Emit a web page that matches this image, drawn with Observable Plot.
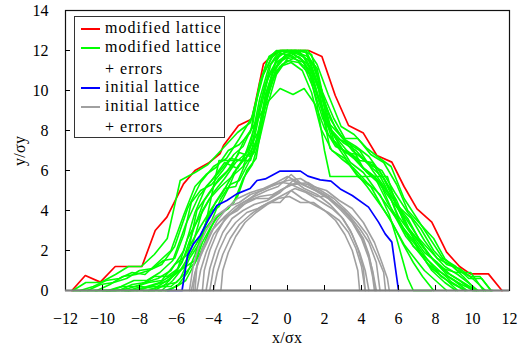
<!DOCTYPE html>
<html><head><meta charset="utf-8">
<script src="https://cdn.jsdelivr.net/npm/d3@7"></script>
<script src="https://cdn.jsdelivr.net/npm/@observablehq/plot@0.6"></script>
<style>
body{margin:0;background:#fff;font-family:"Liberation Serif",serif}
#c{position:relative;width:521px;height:348px;overflow:hidden}
.t{position:absolute;font-family:"Liberation Serif",serif;font-size:16px;line-height:16px;white-space:nowrap;color:#000;letter-spacing:1px}
.sw{position:absolute;width:19px;height:2px}
#lg{position:absolute;left:74px;top:16px;width:151px;height:122px;border:1px solid #333;box-sizing:border-box;background:#fff}
svg text{font-family:"Liberation Serif",serif}
</style></head><body><div id="c"></div>
<script>
const xTicks = [-12,-10,-8,-6,-4,-2,0,2,4,6,8,10,12];
const yTicks = [0,2,4,6,8,10,12,14];
const seriesNames = ["modified lattice","modified lattice + errors","initial lattice","initial lattice + errors"];

const redLine = [[-11.65,0],[-10.93,0.75],[-10.12,0.42],[-9.31,1.2],[-8.6,1.2],[-7.87,1.2],[-7.15,3.0],[-6.52,3.67],[-5.62,5.33],[-5.0,6.0],[-4.27,6.37],[-3.64,6.85],[-3.46,7.25],[-2.65,8.25],[-1.92,8.58],[-1.3,11.33],[-0.84,11.75],[-0.4,12],[0.4,12],[1.14,12],[1.86,11.7],[2.58,9.75],[3.3,8.25],[4.1,7.87],[4.83,6.75],[5.64,6.42],[6.3,5.2],[7.0,4.08],[7.8,3.42],[8.6,1.92],[9.3,1.2],[9.88,0.83],[10.86,0.83],[11.59,0]];

const blueLine = [[-6.5,0],[-5.7,0],[-5.4,1.75],[-5.08,2.33],[-4.72,2.75],[-4.3,3.5],[-3.82,4.25],[-3.28,4.5],[-2.74,4.83],[-2.02,5.1],[-1.65,5.5],[-1.2,5.58],[-0.4,5.97],[0.7,5.97],[1.1,5.72],[1.77,5.53],[2.35,5.47],[2.85,5.08],[3.5,4.75],[4.38,4.17],[4.92,3.42],[5.28,2.83],[5.64,2.42],[6.0,0]];

const green1 = [[-11.6,0],[-10.9,0.4],[-10.1,0.4],[-9.3,0.8],[-8.6,1.2],[-7.9,1.2],[-7.2,1.8],[-6.5,2.6],[-5.8,5.5],[-5.0,5.9],[-4.3,6.3],[-3.5,7.1],[-2.7,7.9],[-2.0,8.4],[-1.4,10.6],[-0.9,11.6],[-0.4,12],[0.4,12],[1.1,12],[1.6,11.3],[2.2,9.8],[2.9,8.2],[3.6,7.8],[4.3,7.1],[5.0,6.6],[5.6,6.2],[6.3,4.6],[7.0,3.6],[7.7,2.6],[8.4,1.6],[9.1,1.2],[9.8,0.6],[10.5,0.6],[11.0,0]];
const green2 = [[-11.6,0],[-10.3,0],[-9.6,0.3],[-8.9,0.7],[-8.2,0.8],[-7.5,1.0],[-6.8,1.3],[-6.1,2.2],[-5.4,4.1],[-4.7,5.4],[-4.0,6.2],[-3.3,6.6],[-2.6,7.6],[-1.9,8.7],[-1.3,10.8],[-0.7,11.9],[0,12],[0.7,11.6],[1.2,11.0],[1.7,9.5],[2.3,8.3],[3.0,7.6],[3.7,7.2],[4.4,6.7],[5.1,5.8],[5.8,4.4],[6.5,3.6],[7.2,2.4],[7.9,1.5],[8.6,0.9],[9.3,0.5],[10.0,0],[11.1,0]];
const green3 = [[-10.4,0],[-9.7,0],[-9.0,0.2],[-8.3,0.5],[-7.6,0.5],[-6.9,0.9],[-6.2,1.5],[-5.5,3.3],[-4.8,4.7],[-4.1,5.5],[-3.4,6.4],[-2.7,6.1],[-2.0,7.3],[-1.5,9.6],[-1.0,11.2],[-0.5,11.9],[0.3,11.7],[0.9,11.2],[1.4,10.1],[1.9,8.6],[2.5,7.8],[3.2,7.0],[3.9,6.5],[4.6,6.4],[5.3,5.2],[6.0,3.7],[6.7,2.8],[7.4,1.9],[8.1,1.4],[8.8,0.8],[9.5,0.4],[10.2,0]];
const green4 = [[-9.8,0],[-9.1,0],[-8.4,0.3],[-7.7,0.4],[-7.0,0.6],[-6.3,1.0],[-5.6,2.0],[-5.0,3.9],[-4.4,5.2],[-3.8,5.8],[-3.1,6.6],[-2.4,6.5],[-1.8,8.1],[-1.2,10.3],[-0.6,11.4],[0,11.8],[0.6,12],[1.1,11.4],[1.6,10.4],[2.1,8.3],[2.7,7.6],[3.4,7.3],[4.1,6.1],[4.8,5.6],[5.5,4.8],[6.2,3.1],[6.9,2.3],[7.6,1.3],[8.3,0.9],[9.0,0.5],[9.7,0]];
const green5 = [[-11.6,0],[-9.2,0],[-8.5,0],[-7.8,0.1],[-7.1,0.3],[-6.4,0.5],[-5.7,1.4],[-5.1,3.0],[-4.5,4.5],[-3.9,5.3],[-3.3,5.9],[-2.6,6.9],[-2.0,6.7],[-1.5,8.9],[-1.0,10.8],[-0.4,11.8],[0.2,12],[0.8,11.8],[1.3,10.9],[1.8,9.2],[2.2,7.8],[2.9,7.1],[3.6,6.6],[4.3,5.9],[5.0,5.4],[5.7,3.9],[6.4,2.7],[7.1,1.9],[7.8,1.1],[8.5,0.6],[9.2,0]];
const green6 = [[-9.6,0],[-8.9,0.2],[-8.2,0.2],[-7.5,0.4],[-6.8,0.5],[-6.1,1.3],[-5.4,1.8],[-4.9,4.0],[-4.3,4.8],[-3.7,5.6],[-3.0,6.2],[-2.3,7.6],[-1.7,8.4],[-1.1,9.4],[-0.4,10.1],[0.3,9.8],[0.9,10.1],[1.5,9.3],[2.0,8.1],[2.6,7.2],[3.3,6.9],[4.0,6.2],[4.7,5.7],[5.4,4.4],[6.1,3.4],[6.8,2.2],[7.5,1.6],[8.2,1.0],[8.9,0.4],[9.6,0]];
const green7 = [[-8.8,0],[-8.1,0],[-7.4,0.2],[-6.7,0.2],[-6.0,0.9],[-5.4,2.6],[-4.8,3.6],[-4.2,4.6],[-3.6,5.2],[-3.0,5.7],[-2.4,6.2],[-1.9,7.4],[-1.4,9.6],[-0.9,11.3],[-0.3,12],[0.5,12],[1.0,11.6],[1.5,11.2],[1.9,9.8],[2.3,8.6],[2.9,7.7],[3.5,7.0],[4.2,6.5],[4.9,6.1],[5.6,5.0],[6.3,3.4],[7.0,2.6],[7.7,1.7],[8.4,1.1],[9.1,0.9],[9.9,0.9],[10.6,0]];
const green8 = [[-8.2,0],[-7.5,0],[-6.8,0],[-6.2,0.5],[-5.6,1.2],[-5.1,2.4],[-4.6,4.0],[-4.0,4.9],[-3.4,5.6],[-2.8,6.4],[-2.2,6.9],[-1.6,7.9],[-1.1,10.0],[-0.6,11.6],[0,12],[0.6,11.8],[1.2,11.5],[1.7,10.2],[2.1,8.8],[2.5,7.5],[3.1,6.9],[3.8,6.8],[4.5,6.2],[5.2,5.6],[5.9,4.5],[6.6,3.0],[7.3,2.2],[8.0,1.4],[8.7,0.7],[9.4,0.3],[10.1,0]];
const green9 = [[-11.2,0],[-10.5,0.2],[-9.8,0.5],[-9.1,0.6],[-8.4,0.9],[-7.7,0.8],[-7.0,1.4],[-6.3,2.0],[-5.6,3.8],[-5.0,5.2],[-4.4,5.8],[-3.8,6.2],[-3.2,7.0],[-2.6,7.3],[-2.0,7.9],[-1.6,9.9],[-1.1,11.5],[-0.6,12],[0.2,11.9],[0.8,11.5],[1.3,10.6],[1.8,9.2],[2.4,8.0],[3.0,7.4],[3.7,7.0],[4.4,6.3],[5.1,6.0],[5.8,4.9],[6.5,3.9],[7.2,3.1],[7.9,2.0],[8.6,1.3],[9.3,1.1],[10.0,0.6],[10.7,0]];
const green10 = [[-10.0,0],[-9.3,0],[-8.6,0.1],[-7.9,0.3],[-7.2,0.7],[-6.5,0.7],[-5.9,1.1],[-5.3,2.2],[-4.7,3.2],[-4.1,4.1],[-3.5,4.9],[-2.9,5.9],[-2.3,6.6],[-1.8,7.0],[-1.3,9.1],[-0.8,10.9],[-0.2,11.6],[0.4,12],[1.0,11.9],[1.5,10.6],[2.0,9.4],[2.6,8.1],[3.2,7.4],[3.9,7.0],[4.6,6.0],[5.3,5.1],[6.0,4.2],[6.7,3.6],[7.4,2.5],[8.1,1.6],[8.8,1.3],[9.5,0.7],[10.2,0]];
const green11 = [[-8.6,0],[-7.9,0.2],[-7.2,0.1],[-6.5,0.5],[-5.8,1.0],[-5.2,1.9],[-4.7,2.7],[-4.2,3.9],[-3.7,4.2],[-3.2,5.1],[-2.7,6.2],[-2.1,6.8],[-1.6,7.6],[-1.2,9.8],[-0.7,11.1],[-0.1,11.8],[0.5,11.9],[1.1,11.7],[1.6,11.1],[2.0,9.4],[2.4,7.9],[3.0,7.0],[3.6,6.7],[4.3,5.9],[5.0,5.3],[5.7,4.4],[6.4,3.6],[7.1,2.6],[7.8,1.9],[8.5,1.2],[9.2,0.8],[9.9,0.3],[10.3,0]];
const green12 = [[-7.5,0],[-6.9,0.2],[-6.3,0.2],[-5.8,0.6],[-5.3,1.6],[-4.8,2.3],[-4.4,3.4],[-3.9,4.4],[-3.4,5.1],[-2.8,5.2],[-2.3,6.3],[-1.8,6.9],[-1.4,8.4],[-1.0,10.1],[-0.5,11.4],[0.1,11.7],[0.7,12],[1.3,11.8],[1.8,10.0],[2.2,8.3],[2.8,7.3],[3.4,6.4],[4.1,5.9],[4.8,5.0],[5.5,4.1],[6.2,3.2],[6.9,2.4],[7.6,1.5],[8.3,0.7],[9.0,0.3],[9.6,0]];
const green13 = [[-7.0,0],[-6.4,0],[-5.9,0.3],[-5.4,0.9],[-5.0,1.8],[-4.6,2.9],[-4.1,3.5],[-3.6,4.6],[-3.1,5.3],[-2.6,5.5],[-2.1,6.4],[-1.6,7.4],[-1.2,9.3],[-0.8,10.6],[-0.3,11.3],[0.3,11.6],[0.9,11.4],[1.4,10.5],[1.9,9.0],[2.4,7.6],[3.0,6.8],[3.6,6.0],[4.3,5.2],[5.0,4.3],[5.6,3.5],[6.2,2.4],[6.8,1.4],[7.3,0.7],[7.9,0]];
const green14 = [[-10.8,0],[-10.1,0.3],[-9.4,0.4],[-8.7,0.6],[-8.0,1.0],[-7.3,1.1],[-6.7,1.5],[-6.1,1.6],[-5.6,2.8],[-5.2,4.4],[-4.7,5.0],[-4.1,5.3],[-3.5,6.0],[-2.9,6.8],[-2.4,7.2],[-1.9,8.2],[-1.5,10.4],[-1.0,11.7],[-0.5,12],[0.3,12],[1.0,12],[1.4,11.2],[1.9,9.9],[2.5,8.6],[3.1,7.6],[3.8,7.6],[4.5,6.8],[5.2,6.4],[5.9,5.3],[6.5,4.0],[7.2,3.3],[7.9,2.6],[8.5,1.6],[9.2,1.0],[9.9,0.7],[10.4,0.7],[11.0,0]];
const green15 = [[-9.0,0],[-8.3,0],[-7.6,0.2],[-6.9,0.4],[-6.2,0.8],[-5.5,1.2],[-5.0,1.5],[-4.5,3.0],[-4.0,5.2],[-3.7,6.5],[-2.0,6.5],[-1.6,7.8],[-1.1,9.6],[-0.6,11.0],[0,11.5],[0.6,11.4],[1.2,10.8],[1.6,9.3],[2.0,7.0],[2.3,5.7],[5.4,5.7],[5.9,4.2],[6.5,3.2],[7.1,2.0],[7.8,1.0],[8.5,0.4],[9.1,0]];
const green16 = [[-6.6,0],[-6.0,0.2],[-5.5,0.5],[-5.1,1.2],[-4.7,1.9],[-4.3,2.8],[-3.9,3.6],[-3.4,4.0],[-2.9,4.4],[-2.4,5.6],[-1.9,6.3],[-1.5,7.6],[-1.1,9.2],[-0.6,10.8],[0,11.6],[0.6,11.7],[1.2,11.2],[1.7,10.0],[2.0,8.4],[2.3,7.1],[2.9,6.6],[3.6,6.1],[4.3,5.4],[5.0,4.8],[5.5,3.8],[5.9,2.6],[6.2,1.6],[6.5,0.6],[6.8,0],[7.8,0]];
const green17 = [[-7.8,0],[-7.2,0],[-6.6,0.3],[-6.0,0.4],[-5.5,0.9],[-5.0,1.4],[-4.6,2.4],[-4.2,3.1],[-3.7,3.8],[-3.2,4.1],[-2.7,4.7],[-2.2,6.0],[-1.7,6.6],[-1.3,8.8],[-0.9,10.4],[-0.4,11.2],[0.2,11.4],[0.8,11.0],[1.3,9.9],[1.8,8.1],[2.4,7.0],[3.1,6.6],[3.8,5.7],[4.5,5.2],[5.1,4.2],[5.7,3.3],[6.3,2.3],[6.8,1.7],[7.4,1.0],[8.0,0.5],[8.6,0]];

const gray1 = [[-5.3,0],[-5.1,1.2],[-4.8,2.2],[-4.4,3.0],[-3.9,3.7],[-3.3,4.1],[-2.7,4.6],[-2.0,4.9],[-1.3,5.1],[-0.6,5.4],[0,5.7],[0.6,5.4],[1.3,5.1],[2.0,4.8],[2.7,4.3],[3.3,3.8],[3.9,3.1],[4.4,2.4],[4.8,1.4],[5.0,0]];
const gray2 = [[-4.9,0],[-4.7,1.0],[-4.4,1.9],[-4.0,2.8],[-3.5,3.4],[-3.0,3.9],[-2.4,4.4],[-1.8,4.7],[-1.1,5.0],[-0.5,5.2],[0.2,5.8],[0.8,5.3],[1.5,5.0],[2.2,4.6],[2.9,4.0],[3.5,3.4],[4.0,2.6],[4.4,1.6],[4.6,0.7],[4.7,0]];
const gray3 = [[-4.4,0],[-4.2,1.1],[-3.9,2.0],[-3.5,2.9],[-3.0,3.6],[-2.4,4.0],[-1.8,4.3],[-1.1,4.5],[-0.4,4.9],[0.3,5.5],[0.9,5.1],[1.6,4.8],[2.3,4.3],[2.9,3.7],[3.4,3.0],[3.8,2.1],[4.1,1.1],[4.2,0]];
const gray4 = [[-3.6,0],[-3.5,1.0],[-3.2,1.9],[-2.8,2.7],[-2.3,3.4],[-1.7,3.9],[-1.1,4.3],[-0.5,4.6],[0.1,4.7],[0.7,4.4],[1.4,4.4],[2.0,4.0],[2.6,3.5],[3.1,2.8],[3.5,2.0],[3.8,1.0],[3.9,0]];
const gray5 = [[-5.2,0],[-5.0,0.9],[-4.7,1.7],[-4.3,2.6],[-3.8,3.5],[-3.2,4.2],[-2.6,4.4],[-2.0,4.8],[-1.4,5.0],[-0.7,5.3],[0,5.5],[0.7,5.6],[1.4,5.2],[2.1,5.0],[2.8,4.5],[3.5,4.1],[4.1,3.4],[4.7,2.4],[5.1,1.4],[5.4,0.6],[5.5,0]];
const gray6 = [[-4.6,0],[-4.5,1.0],[-4.2,2.0],[-3.8,2.9],[-3.3,3.7],[-2.7,4.0],[-2.1,4.5],[-1.5,4.7],[-0.8,4.8],[-0.2,5.1],[0.5,5.4],[1.1,5.3],[1.8,4.9],[2.5,4.4],[3.1,4.0],[3.6,3.3],[4.1,2.6],[4.4,1.8],[4.6,0.9],[4.75,0]];
const gray7 = [[-5.0,0],[-4.9,1.2],[-4.6,2.1],[-4.1,3.0],[-3.6,3.5],[-3.0,3.9],[-2.4,4.3],[-1.7,4.6],[-1.0,4.6],[-0.4,5.0],[0.2,5.3],[0.9,5.0],[1.6,4.7],[2.2,4.7],[2.8,4.2],[3.4,3.6],[3.9,2.9],[4.3,2.0],[4.6,1.0],[4.8,0]];
const gray8 = [[-4.2,0],[-4.0,1.1],[-3.7,2.0],[-3.3,2.8],[-2.8,3.4],[-2.2,3.9],[-1.6,4.1],[-1.0,4.4],[-0.4,4.4],[0.2,5.0],[0.8,4.6],[1.2,4.4],[1.6,4.2],[2.2,3.9],[2.8,3.5],[3.3,2.9],[3.7,2.1],[4.0,1.2],[4.2,0]];
const gray9 = [[-5.1,0],[-5.0,0.8],[-4.8,1.6],[-4.4,2.3],[-4.0,3.1],[-3.4,3.7],[-2.8,4.2],[-2.2,4.5],[-1.6,4.9],[-0.9,5.2],[-0.3,5.4],[0.4,5.3],[1.1,5.4],[1.8,5.0],[2.5,4.6],[3.2,4.0],[3.8,3.4],[4.3,2.8],[4.8,1.8],[5.2,0.9],[5.3,0]];
const gray10 = [[-4.0,0],[-3.8,0.9],[-3.5,1.8],[-3.1,2.6],[-2.6,3.3],[-2.0,3.8],[-1.4,4.2],[-0.8,4.5],[-0.2,4.8],[0.4,5.1],[1.0,4.9],[1.7,4.5],[2.4,4.1],[3.0,3.6],[3.5,2.8],[3.9,1.9],[4.2,1.0],[4.4,0]];

const greens = [green1,green2,green3,green4,green5,green6,green7,green8,green9,green10,green11,green12,green13,green14,green15,green16,green17];
const grays = [gray1,gray2,gray3,gray4,gray5,gray6,gray7,gray8,gray9,gray10];

function rows(list, name){
  const out = [];
  list.forEach((pts, i) => pts.forEach(([x,y]) => out.push({x, y, id: name + i})));
  return out;
}
const redRows = rows([redLine], "r");
const greenRows = rows(greens, "g");
const grayRows = rows(grays, "k");
const blueRows = rows([blueLine], "b");

const FONT = "'Liberation Serif', serif";
const plot = Plot.plot({
  width: 521, height: 348,
  marginLeft: 65, marginRight: 12, marginTop: 10, marginBottom: 58,
  x: {domain: [-12, 12]},
  y: {domain: [0, 14]},
  style: {fontFamily: FONT, fontSize: "16px", color: "#000", background: "#fff", overflow: "visible"},
  marks: [
    Plot.line(redRows, {x: "x", y: "y", z: "id", stroke: "#ff0000", strokeWidth: 1.7}),
    Plot.line(greenRows, {x: "x", y: "y", z: "id", stroke: "#00ff00", strokeWidth: 1.6}),
    Plot.line(grayRows, {x: "x", y: "y", z: "id", stroke: "#a0a0a0", strokeWidth: 1.6}),
    Plot.line(blueRows, {x: "x", y: "y", z: "id", stroke: "#0000ff", strokeWidth: 1.7}),
    Plot.frame({stroke: "#111", strokeWidth: 1.2}),
    Plot.ruleY([0], {stroke: "#808080", strokeWidth: 2}),
    Plot.ruleX(xTicks.slice(1, -1), {x: d => d, y1: 0, y2: 0.25, stroke: "#000"}),
    Plot.ruleY(yTicks.slice(1, -1), {y: d => d, x1: -12, x2: -11.73, stroke: "#000"}),
    Plot.axisX(xTicks, {tickSize: 0, tickPadding: 22, label: null, fontSize: 16, fontFamily: FONT}),
    Plot.axisY(yTicks, {tickSize: 0, tickPadding: 17, label: null, fontSize: 16, fontFamily: FONT})
  ]
});
const c = document.getElementById("c");
c.appendChild(plot);

function addText(txt, left, top, extra){
  const d = document.createElement("div");
  d.className = "t"; d.textContent = txt;
  d.style.left = left + "px"; d.style.top = top + "px";
  if (extra) Object.assign(d.style, extra);
  c.appendChild(d);
  return d;
}
addText("x/σx", 272, 330, {letterSpacing: "0.3px"});
addText("y/σy", 4, 142, {transform: "rotate(-90deg)", transformOrigin: "16px 8px", letterSpacing: "0.3px"});

const lg = document.createElement("div"); lg.id = "lg"; c.appendChild(lg);
const legendRows = [
  {label: seriesNames[0], color: "#ff0000", y: 29},
  {label: "modified lattice", color: "#00ff00", y: 48},
  {label: "+ errors", color: null, y: 70},
  {label: seriesNames[2], color: "#0000ff", y: 88},
  {label: "initial lattice", color: "#a0a0a0", y: 107},
  {label: "+ errors", color: null, y: 128}
];
legendRows.forEach(r => {
  if (r.color) {
    const s = document.createElement("div");
    s.className = "sw"; s.style.left = "81px"; s.style.top = (r.y - 1) + "px"; s.style.background = r.color;
    c.appendChild(s);
  }
  addText(r.label, 105, r.y - 9);
});
</script></body></html>
